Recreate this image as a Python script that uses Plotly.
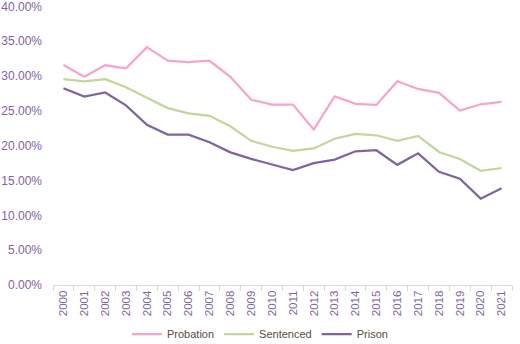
import plotly.graph_objects as go

years = [str(y) for y in range(2000, 2022)]
probation = [31.6, 29.9, 31.55, 31.1, 34.15, 32.2, 32.0, 32.2, 29.9, 26.6, 25.9, 25.9, 22.3, 27.1, 26.0, 25.85, 29.25, 28.15, 27.6, 25.05, 25.95, 26.3]
sentenced = [29.55, 29.25, 29.55, 28.4, 26.9, 25.4, 24.65, 24.3, 22.8, 20.7, 19.85, 19.27, 19.6, 21.0, 21.7, 21.5, 20.7, 21.4, 19.1, 18.1, 16.4, 16.8]
prison = [28.25, 27.05, 27.65, 25.8, 23.0, 21.6, 21.6, 20.5, 19.05, 18.1, 17.3, 16.5, 17.5, 18.0, 19.2, 19.35, 17.25, 18.9, 16.25, 15.25, 12.4, 13.9]
y_ticks = [0, 0.05, 0.10, 0.15, 0.20, 0.25, 0.30, 0.35, 0.40]

series = [("Probation", probation, "#F9A3CB"),
          ("Sentenced", sentenced, "#C3D69B"),
          ("Prison", prison, "#8064A2")]

fig = go.Figure()
for name, vals, col in series:
    fig.add_trace(go.Scatter(x=years, y=[v / 100 for v in vals], name=name, mode="lines",
                             line=dict(color=col, width=2.25)))

axis_font = dict(family="Liberation Sans, Arial, sans-serif", size=12, color="#7F63A1")
fig.update_layout(
    width=520, height=344,
    margin=dict(l=53, r=8, t=6, b=59),
    paper_bgcolor="white", plot_bgcolor="white",
    showlegend=True,
    legend=dict(orientation="h", x=0.5, xanchor="center", xref="container",
                y=10 / 344, yanchor="middle", yref="container",
                font=dict(family="Liberation Sans, Arial, sans-serif", size=11, color="#5A4A3C"),
                itemwidth=30, tracegroupgap=0),
    xaxis=dict(type="category", range=[-0.5, 21.5], showgrid=False, showline=True,
               linecolor="#D9D9D9", linewidth=1, ticks="outside", tickson="boundaries",
               tickcolor="#D9D9D9", ticklen=5, tickangle=-90, automargin=False,
               tickfont=dict(family="Liberation Sans, Arial, sans-serif", size=11.5, color="#7F63A1")),
    yaxis=dict(range=[0, 0.4006], tickvals=y_ticks, tickformat=".2%", showgrid=False, zeroline=False,
               showline=False, ticks="", tickfont=axis_font, ticklabelstandoff=10, automargin=False,
               ticklabeloverflow="allow"),
)
fig.write_html("out.html")
